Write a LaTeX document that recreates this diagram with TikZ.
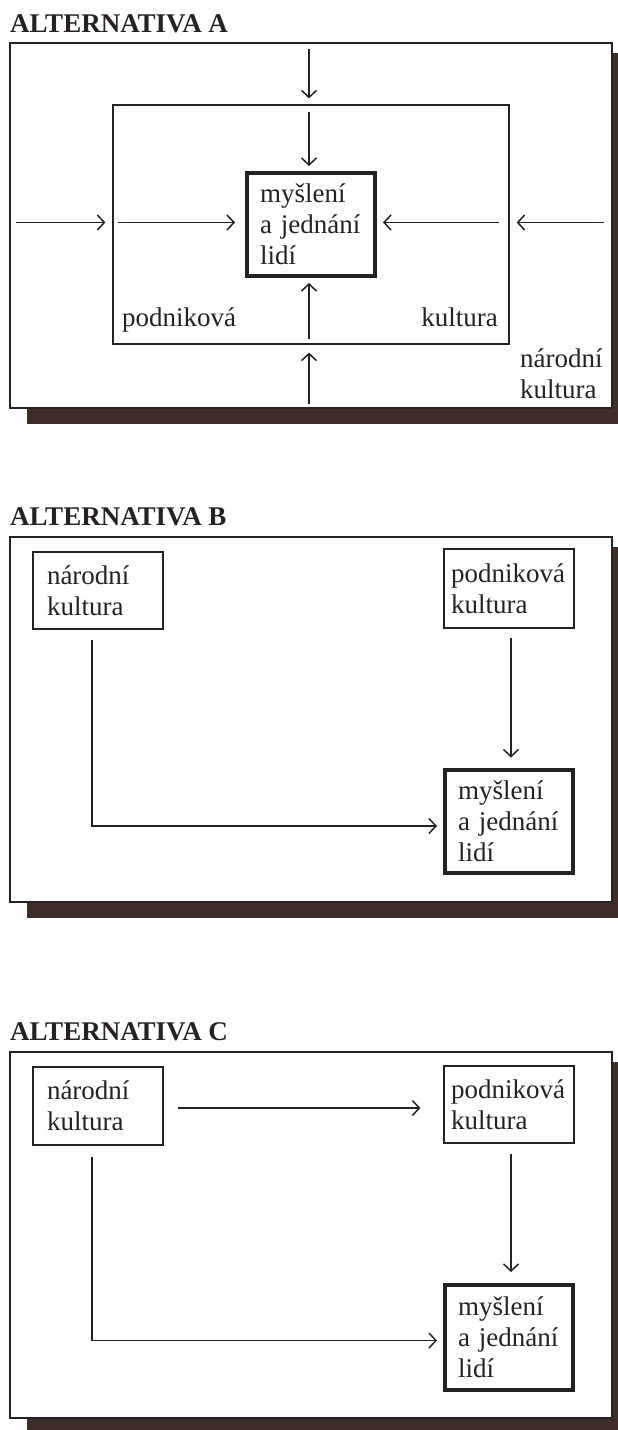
\documentclass[tikz,border=0pt]{standalone}
\usepackage{fontspec}
\setmainfont{Liberation Serif}
\usetikzlibrary{arrows.meta}
\definecolor{ink}{RGB}{38,34,34}
\definecolor{shadowc}{RGB}{62,45,40}
\newcommand{\bodyfont}{\fontsize{27}{31}\selectfont}
\begin{document}
\begin{tikzpicture}[x=1pt,y=-1pt,
  frame/.style={draw=ink,line width=1.3pt,fill=white,rectangle,inner sep=0pt},
  inner/.style={draw=ink,line width=1.2pt,rectangle,inner sep=0pt},
  box/.style={draw=ink,line width=1.2pt,fill=white,rectangle,align=left,inner ysep=0pt,font=\bodyfont,text=ink},
  mjbox/.style={box,line width=4pt,inner xsep=13pt,text width=102pt,minimum height=103pt},
  lbl/.style={inner sep=0pt,font=\bodyfont,text=ink},
  title/.style={inner sep=0pt,font=\fontsize{27}{31}\selectfont\bfseries,text=ink},
  arr/.style={draw=ink,line width=1.5pt,-{Straight Barb[length=7pt,width=15pt]}}
]
\useasboundingbox (0,0) rectangle (618,1430);
\fill[white] (0,0) rectangle (618,1430);

% ---------------- Alternativa A ----------------
\node[title,anchor=base west] (tA) at (10,32) {ALTERNATIVA A};
\fill[shadowc] (27,53) rectangle (618,424);
\node[frame,minimum width=602pt,minimum height=365pt] (natA) at (311,225.5) {};
\node[inner,minimum width=396pt,minimum height=239pt] (podA) at (311,224.5) {};
\node[mjbox] (mjA) at (311,224.5) {myšlení\\a jednání\\lidí};

\draw[arr] ([xshift=-2pt,yshift=-7pt]natA.north) -- ([xshift=-2pt,yshift=6pt]podA.north);
\draw[arr] ([xshift=-2pt,yshift=-8pt]podA.north) -- ([xshift=-2pt,yshift=5pt]mjA.north);
\draw[arr] ([xshift=-2pt,yshift=6pt]podA.south) -- ([xshift=-2pt,yshift=-5pt]mjA.south);
\draw[arr] ([xshift=-2pt,yshift=5pt]natA.south) -- ([xshift=-2pt,yshift=-8pt]podA.south);
\draw[arr] ([xshift=7pt,yshift=2pt]natA.west |- mjA.center) -- ([xshift=-7pt,yshift=2pt]podA.west |- mjA.center);
\draw[arr] ([xshift=6pt,yshift=2pt]podA.west |- mjA.center) -- ([xshift=-10pt,yshift=2pt]mjA.west);
\draw[arr] ([xshift=-11pt,yshift=2pt]podA.east |- mjA.center) -- ([xshift=6pt,yshift=2pt]mjA.east);
\draw[arr] ([xshift=-9pt,yshift=2pt]natA.east |- mjA.center) -- ([xshift=7pt,yshift=2pt]podA.east |- mjA.center);

\node[lbl,anchor=base west] (lpod) at (122,326) {podniková};
\node[lbl,anchor=base east] (lkul) at (498,326) {kultura};
\node[lbl,anchor=base west,align=left] (lnar) at (520,398) {národní\\kultura};

% ---------------- Alternativa B ----------------
\node[title,anchor=base west] (tB) at (10,525) {ALTERNATIVA B};
\fill[shadowc] (27,547) rectangle (618,918);
\node[frame,minimum width=602pt,minimum height=365pt] (natB) at (311,719.5) {};
\node[box,inner xsep=14pt,text width=102pt,minimum height=77pt] (nkB) at (98,590.5) {národní\\kultura};
\node[box,inner xsep=7pt,text width=116pt,minimum height=79pt] (pkB) at (509,588.5) {podniková\\kultura};
\node[mjbox] (mjB) at (509,821) {myšlení\\a jednání\\lidí};
\draw[arr] ([xshift=-6pt,yshift=-10pt]nkB.south) |- ([xshift=-6pt,yshift=-5pt]mjB.west);
\draw[arr] ([xshift=2pt,yshift=-9pt]pkB.south) -- ([xshift=2pt,yshift=10pt]mjB.north);

% ---------------- Alternativa C ----------------
\node[title,anchor=base west] (tC) at (10,1040) {ALTERNATIVA C};
\fill[shadowc] (27,1062) rectangle (618,1430);
\node[frame,minimum width=602pt,minimum height=366pt] (natC) at (311,1235) {};
\node[box,inner xsep=14pt,text width=102pt,minimum height=78pt] (nkC) at (98,1106) {národní\\kultura};
\node[box,inner xsep=7pt,text width=116pt,minimum height=77pt] (pkC) at (509,1104.5) {podniková\\kultura};
\node[mjbox,minimum height=105pt] (mjC) at (509,1337.5) {myšlení\\a jednání\\lidí};
\draw[arr] ([xshift=14pt,yshift=-2pt]nkC.east) -- ([xshift=-23pt,yshift=-2pt]nkC.east -| pkC.west);
\draw[arr] ([xshift=2pt,yshift=-10pt]pkC.south) -- ([xshift=2pt,yshift=11pt]mjC.north);
\draw[arr] ([xshift=-6pt,yshift=-11pt]nkC.south) |- ([xshift=-6pt,yshift=-3pt]mjC.west);
\end{tikzpicture}
\end{document}
